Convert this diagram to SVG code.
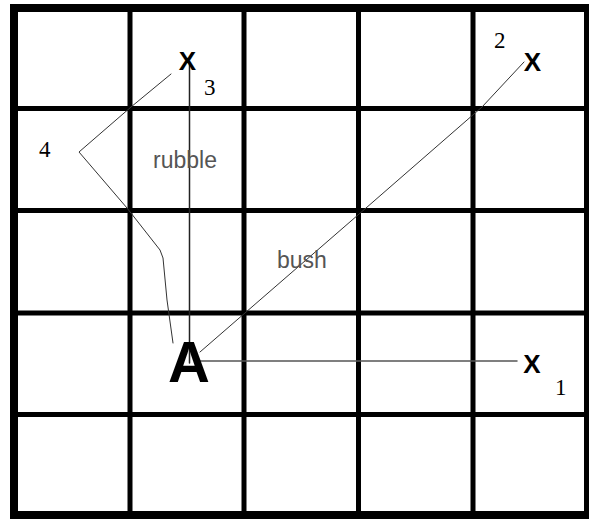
<svg xmlns="http://www.w3.org/2000/svg" width="589" height="519" viewBox="0 0 589 519">
<style>
.grid{stroke:#000;fill:none}
.x{font-family:"Liberation Sans",Arial,sans-serif;font-weight:bold;font-size:26px;fill:#000;text-anchor:middle}
.num{font-family:"Liberation Serif","Times New Roman",serif;font-size:23px;fill:#000}
.lbl{font-family:"Liberation Sans",Arial,sans-serif;font-size:23px;fill:#555}
.c{fill:none;stroke-linecap:round;stroke-linejoin:round}
</style>
<rect width="589" height="519" fill="#fff"/>
<g id="grid" class="grid">
<rect x="14" y="8" width="574" height="507" stroke-width="8"/>
<g stroke-width="5">
<line x1="130" y1="8" x2="130" y2="515"/>
<line x1="244" y1="8" x2="244" y2="515"/>
<line x1="358.5" y1="8" x2="358.5" y2="515"/>
<line x1="473" y1="8" x2="473" y2="515"/>
<line x1="14" y1="108.5" x2="588" y2="108.5"/>
<line x1="14" y1="210.5" x2="588" y2="210.5"/>
<line x1="14" y1="313" x2="588" y2="313"/>
<line x1="14" y1="414.5" x2="588" y2="414.5"/>
</g>
</g>
<g id="connectors">
<line class="c" x1="189.5" y1="63" x2="189.5" y2="363" stroke="#222" stroke-width="1.5"/>
<line class="c" x1="195" y1="361" x2="517" y2="361" stroke="#555" stroke-width="1.5"/>
<polyline class="c" points="200,352 366,208 482,107 524,62" stroke="#333" stroke-width="1"/>
<polyline class="c" points="171,74 131,107 79,152 127,208 160,250 163,258 167,300 173,343" stroke="#333" stroke-width="1"/>
</g>
<g id="node-A"><text x="189" y="382" style="font-family:'Liberation Sans',Arial,sans-serif;font-weight:bold;font-size:58px;text-anchor:middle">A</text></g>
<g id="node-x1"><text class="x" x="532" y="373">X</text><text class="num" x="555" y="395">1</text></g>
<g id="node-x2"><text class="x" x="532.5" y="71">X</text><text class="num" x="494" y="48">2</text></g>
<g id="node-x3"><text class="x" x="187.5" y="70">X</text><text class="num" x="204" y="95">3</text></g>
<g id="label-4"><text class="num" x="39" y="157">4</text></g>
<g id="label-rubble"><text class="lbl" x="153" y="168">rubble</text></g>
<g id="label-bush"><text class="lbl" x="277" y="268">bush</text></g>
</svg>
